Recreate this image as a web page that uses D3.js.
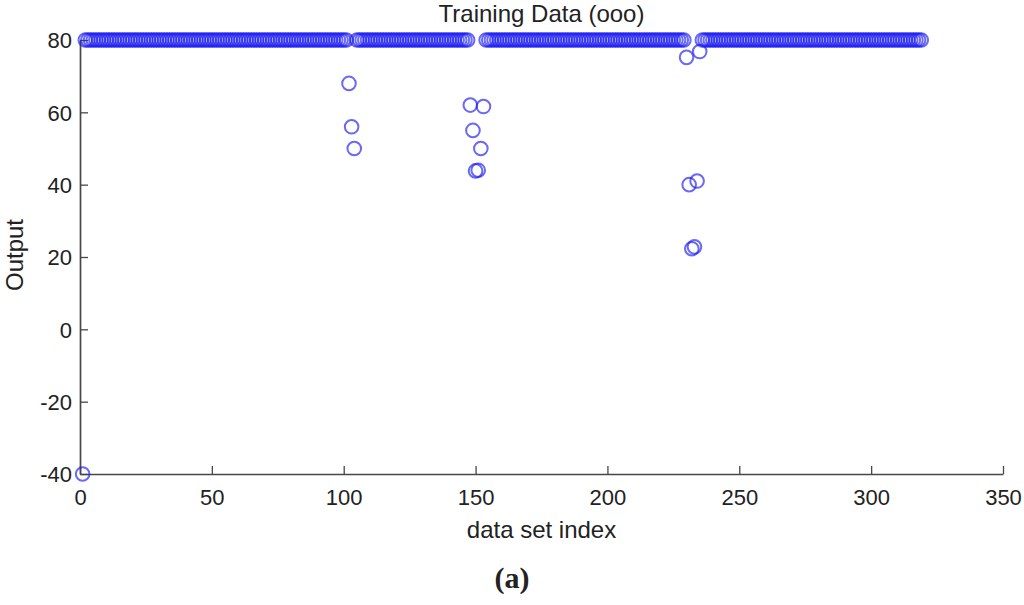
<!DOCTYPE html>
<html><head><meta charset="utf-8">
<script src="https://cdn.jsdelivr.net/npm/d3@7"></script>
<style>
body{margin:0;background:#fff;}
text{font-family:Arial,"Liberation Sans",sans-serif;fill:#222;}
</style></head>
<body><svg id="chart" width="1024" height="605"></svg>
<script>
// ---- data ----
const nPoints = 319;
const baseValue = 80;
const firstIndexValue = -40;           // index 1
const outlierIndex = [102,103,104, 148,149,150,151,152,153, 230,231,232,233,234,235];
const outlierValue = [68,56,50, 62,55,43.8,44,50,61.6, 75.2,40,22.3,22.8,41,76.8];
const xTicks = [0,50,100,150,200,250,300,350];
const yTicks = [-40,-20,0,20,40,60,80];

// build series
const data = [];
for (let i = 1; i <= nPoints; i++) {
  let v = baseValue;
  if (i === 1) v = firstIndexValue;
  const k = outlierIndex.indexOf(i);
  if (k >= 0) v = outlierValue[k];
  data.push({i, v});
}

const svg = d3.select("#chart");
const defs = svg.append("defs");
defs.append("filter").attr("id","soft").attr("x","-10%").attr("y","-10%").attr("width","120%").attr("height","120%")
  .append("feGaussianBlur").attr("stdDeviation",0.5);

const mL = 80, mR = 1003, mT = 40, mB = 474;
const x = d3.scaleLinear().domain([0,350]).range([mL,mR]);
const y = d3.scaleLinear().domain([-40,80]).range([mB,mT]);
const fmt = d => String(d);

// axes (ticks pointing inward)
const gx = svg.append("g").attr("transform",`translate(0,${mB})`)
  .call(d3.axisBottom(x).tickValues(xTicks).tickFormat(fmt).tickSize(-8).tickSizeOuter(0).tickPadding(14));
const gy = svg.append("g").attr("transform",`translate(${mL},0)`)
  .call(d3.axisLeft(y).tickValues(yTicks).tickFormat(fmt).tickSize(-8).tickSizeOuter(0).tickPadding(8));
[gx,gy].forEach(g=>{
  g.selectAll("path.domain").attr("stroke","#474747").attr("stroke-width",1.7);
  g.selectAll(".tick line").attr("stroke","#474747").attr("stroke-width",1.3);
  g.selectAll(".tick text").attr("font-size",22).attr("fill","#222")
    .attr("font-family","Arial, 'Liberation Sans', sans-serif");
});
gx.selectAll(".tick text").attr("dy","0.75em");
gy.selectAll(".tick text").attr("dy","0.35em");

// points
svg.append("g").attr("filter","url(#soft)").selectAll("circle").data(data).join("circle")
  .attr("cx",d=>x(d.i)).attr("cy",d=>y(d.v)).attr("r",6.8)
  .attr("fill","none").attr("stroke","#2020f0").attr("stroke-width",2)
  .attr("stroke-opacity",0.68);

// texts
svg.append("text").attr("x",(mL+mR)/2).attr("y",22).attr("text-anchor","middle")
  .attr("font-size",24).text("Training Data (ooo)");
svg.append("text").attr("x",(mL+mR)/2).attr("y",538).attr("text-anchor","middle")
  .attr("font-size",24).text("data set index");
svg.append("text").attr("transform",`translate(23,${(mT+mB)/2 - 2}) rotate(-90)`)
  .attr("text-anchor","middle").attr("font-size",24).text("Output");
svg.append("text").attr("x",512).attr("y",588).attr("text-anchor","middle")
  .attr("font-size",30).attr("font-weight","bold")
  .style("font-family","'Liberation Serif','Times New Roman',serif").attr("fill","#000")
  .text("(a)");
</script></body></html>
